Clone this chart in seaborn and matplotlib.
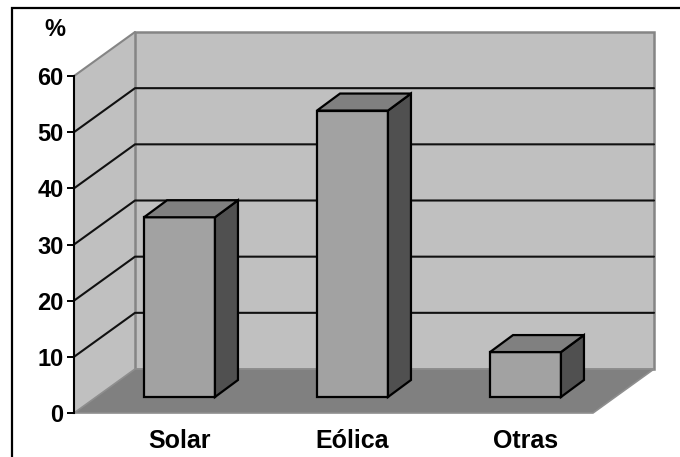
import matplotlib
matplotlib.use("Agg")
import matplotlib.pyplot as plt
from matplotlib.patches import Polygon, Rectangle
from matplotlib.lines import Line2D
from matplotlib.transforms import offset_copy, IdentityTransform
import seaborn as sns
import numpy as np
import pandas as pd

# Share of each energy source (%)
categories = ["Solar", "Eólica", "Otras"]
values = [32, 51, 8]
y_ticks = [0, 10, 20, 30, 40, 50, 60]
y_unit = "%"

sns.set_style("white")
plt.rcParams["font.family"] = ["Liberation Sans", "DejaVu Sans"]
plt.rcParams["text.color"] = "black"
plt.rcParams["ytick.color"] = "black"
plt.rcParams["ytick.labelcolor"] = "black"

W, H, DPI = 680, 457, 100
fig = plt.figure(figsize=(W / DPI, H / DPI), dpi=DPI)
fig.patch.set_facecolor("white")

# outer chart frame (only top and left edges fall inside the canvas)
fig.patches.append(Rectangle((12 / W, -0.2), 2.0, (H - 8) / H + 0.2,
                             transform=fig.transFigure, fill=False,
                             edgecolor="black", linewidth=1.6, zorder=0))

# axes = front plane of the 3-D box
ax = fig.add_axes([74 / W, (H - 413) / H, (593 - 74) / W, (413 - 76) / H])
ax.set_xlim(-0.5, len(categories) - 0.5)
ax.set_ylim(y_ticks[0], y_ticks[-1])
ax.patch.set_visible(False)

# depth offsets in pixels: whole wall depth, bar front and bar back
WALL = np.array([61.0, 44.0])
BAR_FRONT = np.array([19.0, 16.0])
BAR_BACK = np.array([42.0, 33.0])

def disp(x, y, off=(0.0, 0.0)):
    p = ax.transData.transform((x, y))
    return p + np.asarray(off)

def poly(points, **kw):
    p = Polygon(points, closed=True, transform=IdentityTransform(),
                clip_on=False, **kw)
    ax.add_artist(p)
    return p

x0, x1 = ax.get_xlim()
y0, y1 = ax.get_ylim()

# left side wall
poly([disp(x0, y0), disp(x0, y1), disp(x0, y1, WALL), disp(x0, y0, WALL)],
     facecolor="#c0c0c0", edgecolor="none", zorder=0.5)
# back wall
poly([disp(x0, y0, WALL), disp(x1, y0, WALL), disp(x1, y1, WALL), disp(x0, y1, WALL)],
     facecolor="#c0c0c0", edgecolor="#858585", linewidth=1.8, zorder=0.6)
# left wall top edge
ax.add_artist(Line2D(*zip(disp(x0, y1), disp(x0, y1, WALL)), color="#858585",
                     linewidth=1.5, transform=IdentityTransform(), clip_on=False, zorder=0.7))

# gridlines on back and side walls
for v in y_ticks[1:-1]:
    a, b, c = disp(x0, v), disp(x0, v, WALL), disp(x1, v, WALL)
    ax.add_artist(Line2D([a[0], b[0], c[0]], [a[1], b[1], c[1]], color="#111111",
                         linewidth=1.5, transform=IdentityTransform(),
                         clip_on=False, zorder=0.8))

# floor
poly([disp(x0, y0), disp(x1, y0), disp(x1, y0, WALL), disp(x0, y0, WALL)],
     facecolor="#808080", edgecolor="#8e8e8e", linewidth=1.2, zorder=1)

# bar front faces with seaborn, then pushed back to their depth
df = pd.DataFrame({"fuente": categories, "pct": values})
sns.barplot(data=df, x="fuente", y="pct", order=categories, width=0.41,
            color="#a2a2a2", saturation=1, edgecolor="black", linewidth=1.6,
            ax=ax, zorder=3)
ax.set_xlim(x0, x1)
ax.set_ylim(y0, y1)
bars = list(ax.containers[0])
front_tr = offset_copy(ax.transData, fig=fig, x=BAR_FRONT[0], y=BAR_FRONT[1], units="dots")
for bar in bars:
    bx, bw, bh = bar.get_x(), bar.get_width(), bar.get_height()
    bar.set_transform(front_tr)
    bar.set_clip_on(False)
    # right side face
    poly([disp(bx + bw, 0, BAR_FRONT), disp(bx + bw, 0, BAR_BACK),
          disp(bx + bw, bh, BAR_BACK), disp(bx + bw, bh, BAR_FRONT)],
         facecolor="#505050", edgecolor="black", linewidth=1.6, zorder=3,
         joinstyle="miter")
    # top face
    poly([disp(bx, bh, BAR_FRONT), disp(bx + bw, bh, BAR_FRONT),
          disp(bx + bw, bh, BAR_BACK), disp(bx, bh, BAR_BACK)],
         facecolor="#808080", edgecolor="black", linewidth=1.6, zorder=3,
         joinstyle="miter")

# y axis on the front plane
for s in ["top", "right", "bottom"]:
    ax.spines[s].set_visible(False)
ax.spines["left"].set_color("black")
ax.spines["left"].set_linewidth(1.5)
ax.spines["left"].set_zorder(2)
ax.set_yticks(y_ticks)
ax.set_yticklabels([str(t) for t in y_ticks], fontsize=17, fontweight="bold",
                   color="black")
ax.tick_params(axis="y", direction="out", length=5, width=1.4, pad=2.5,
               left=True, colors="black")
ax.set_xticks([])
ax.set_xlabel("")
ax.set_ylabel("")

# category labels under each bar
label_tr = offset_copy(ax.transData, fig=fig, x=BAR_FRONT[0], y=-28, units="dots")
for i, cat in enumerate(categories):
    ax.text(i, 0, cat, transform=label_tr, ha="center", va="center",
            fontsize=18, fontweight="bold", color="black", clip_on=False)

fig.text(54.5 / W, 1 - 29.5 / H, y_unit, ha="center", va="center",
         fontsize=17, fontweight="bold", color="black")

fig.savefig("out.png", dpi=DPI, facecolor="white")
